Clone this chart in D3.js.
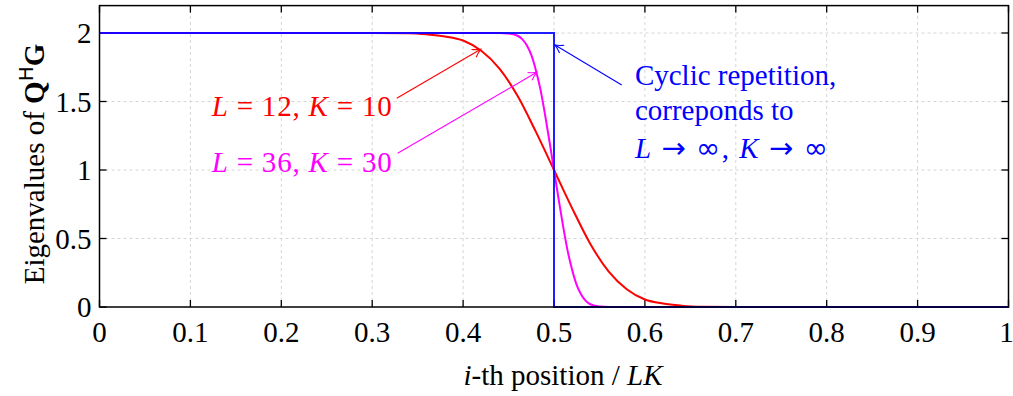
<!DOCTYPE html>
<html><head><meta charset="utf-8">
<script src="https://cdn.jsdelivr.net/npm/d3@7"></script>
<style>
body{margin:0;background:#fff;}
text{font-family:"Liberation Serif","DejaVu Serif",serif;}
</style></head>
<body><svg id="chart" width="1013" height="396"></svg>
<script>
// ---- data ----
const xTicks = [0,0.1,0.2,0.3,0.4,0.5,0.6,0.7,0.8,0.9,1];
const yTicks = [0,0.5,1,1.5,2];
const xTickLabels = ["0","0.1","0.2","0.3","0.4","0.5","0.6","0.7","0.8","0.9","1"];
const yTickLabels = ["0","0.5","1","1.5","2"];

const redX = [0,0.30,0.34,0.36,0.38,0.40,0.42,0.44,0.46,0.48,0.50,0.52,0.54,0.56,0.58,0.60,0.62,0.64,0.66,0.70,1];
const redY = [2,2,1.998,1.99,1.975,1.945,1.87,1.74,1.54,1.28,1.0,0.72,0.46,0.26,0.13,0.055,0.025,0.01,0.002,0,0];

const magX = [0,0.44,0.45,0.46,0.465,0.47,0.475,0.48,0.485,0.49,0.495,0.50,0.505,0.51,0.515,0.52,0.525,0.53,0.535,0.54,0.55,0.56,1];
const magY = [2,2,1.997,1.98,1.955,1.91,1.84,1.73,1.59,1.41,1.21,1.0,0.79,0.59,0.41,0.27,0.16,0.09,0.045,0.02,0.003,0,0];

const blueX = [0,0.5,0.5,1];
const blueY = [2,2,0,0];

// ---- layout ----
const svg = d3.select("#chart");
const x = d3.scaleLinear().domain([0,1]).range([99.5,1008.5]);
const y = d3.scaleLinear().domain([0,2.2]).range([307,5.6]);
const FS = 29;

// grid
const g = svg.append("g");
g.selectAll(".gx").data(xTicks.slice(1,-1)).enter().append("line")
  .attr("x1",d=>x(d)).attr("x2",d=>x(d)).attr("y1",y(0)).attr("y2",y(2.2))
  .attr("stroke","#d6d6d6").attr("stroke-width",1).attr("stroke-dasharray","3,3");
g.selectAll(".gy").data(yTicks.slice(1)).enter().append("line")
  .attr("x1",x(0)).attr("x2",x(1)).attr("y1",d=>y(d)).attr("y2",d=>y(d))
  .attr("stroke","#d6d6d6").attr("stroke-width",1).attr("stroke-dasharray","3,3");

// ticks (inward on all sides)
const TL = 7;
const tk = svg.append("g").attr("stroke","#000").attr("stroke-width",1.3);
xTicks.forEach(d=>{
  tk.append("line").attr("x1",x(d)).attr("x2",x(d)).attr("y1",y(0)).attr("y2",y(0)-TL);
  tk.append("line").attr("x1",x(d)).attr("x2",x(d)).attr("y1",y(2.2)).attr("y2",y(2.2)+TL);
});
yTicks.forEach(d=>{
  tk.append("line").attr("x1",x(0)).attr("x2",x(0)+TL).attr("y1",y(d)).attr("y2",y(d));
  tk.append("line").attr("x1",x(1)).attr("x2",x(1)-TL).attr("y1",y(d)).attr("y2",y(d));
});

// tick labels
svg.selectAll(".xl").data(xTicks).enter().append("text")
  .attr("x",d=>d===1 ? x(d)-2 : x(d)).attr("y",342).attr("text-anchor","middle")
  .attr("font-size",FS).text((d,i)=>xTickLabels[i]);
svg.selectAll(".yl").data(yTicks).enter().append("text")
  .attr("x",x(0)-8).attr("y",d=>y(d)+10).attr("text-anchor","end")
  .attr("font-size",FS).text((d,i)=>yTickLabels[i]);

// curves
const line = d3.line().x(d=>x(d[0])).y(d=>y(d[1])).curve(d3.curveMonotoneX);
const lineL = d3.line().x(d=>x(d[0])).y(d=>y(d[1]));
svg.append("path").datum(redX.map((v,i)=>[v,redY[i]])).attr("d",line)
  .attr("fill","none").attr("stroke","#ff0000").attr("stroke-width",2);
svg.append("path").datum(magX.map((v,i)=>[v,magY[i]])).attr("d",line)
  .attr("fill","none").attr("stroke","#ff00ff").attr("stroke-width",2);
svg.append("path").datum(blueX.map((v,i)=>[v,blueY[i]])).attr("d",lineL)
  .attr("fill","none").attr("stroke","#0000ff").attr("stroke-width",2).attr("stroke-opacity",0.88);

// frame
svg.append("rect").attr("x",x(0)).attr("y",y(2.2)).attr("width",x(1)-x(0)).attr("height",y(0)-y(2.2))
  .attr("fill","none").attr("stroke","#000").attr("stroke-width",1.5);

// arrow markers
const defs = svg.append("defs");
[["r","#ff0000"],["m","#ff00ff"],["b","#0000ff"]].forEach(([id,c])=>{
  defs.append("marker").attr("id","ah"+id).attr("viewBox","-10 -6 12 12")
    .attr("refX",0).attr("refY",0).attr("markerWidth",12).attr("markerHeight",12)
    .attr("markerUnits","userSpaceOnUse").attr("orient","auto")
    .append("path").attr("d","M-8,-4.5 Q-3,-1 0,0 Q-3,1 -8,4.5").attr("fill","none").attr("stroke",c).attr("stroke-width",1.1);
});

// annotations
const arrows = [
  {from:[0.327,1.523], to:[0.4194,1.881], c:"#ff0000", id:"r"},
  {from:[0.328,1.122], to:[0.481,1.713], c:"#ff00ff", id:"m"},
  {from:[0.5745,1.620], to:[0.5011,1.912], c:"#0000ff", id:"b"}
];
arrows.forEach(a=>{
  svg.append("line").attr("x1",x(a.from[0])).attr("y1",y(a.from[1]))
    .attr("x2",x(a.to[0])).attr("y2",y(a.to[1]))
    .attr("stroke",a.c).attr("stroke-width",1.1).attr("marker-end",`url(#ah${a.id})`);
});

function mathLabel(px,py,color,parts,len){
  const t = svg.append("text").attr("x",px).attr("y",py).attr("font-size",FS).attr("fill",color)
    .attr("xml:space","preserve");
  parts.forEach(p=>{
    const s = t.append("tspan").text(p[0]);
    if(p[1]===1) s.attr("font-style","italic");
    if(p[1]===2) s.attr("font-family","'DejaVu Sans',sans-serif").attr("font-size",FS);
  });
  if(len) t.attr("textLength",len).attr("lengthAdjust","spacing");
  return t;
}
mathLabel(x(0.1234),y(1.394),"#ff0000",[["L",1],[" = 12, "],["K",1],[" = 10"]],180);
mathLabel(x(0.1234),y(0.988),"#ff00ff",[["L",1],[" = 36, "],["K",1],[" = 30"]],180);

svg.append("text").attr("x",x(0.589)).attr("y",y(1.620)).attr("font-size",FS).attr("fill","#0000ff").text("Cyclic repetition,");
svg.append("text").attr("x",x(0.589)).attr("y",y(1.365)).attr("font-size",FS).attr("fill","#0000ff").text("correponds to");
mathLabel(x(0.589),y(1.088),"#0000ff",[["L",1],[" "],["\u2192",2],[" "],["\u221E",2],[", "],["K",1],[" "],["\u2192",2],[" "],["\u221E",2]],193);

// axis titles
const xt = svg.append("text").attr("x",x(0.5)+9).attr("y",385).attr("text-anchor","middle").attr("font-size",FS);
xt.append("tspan").attr("font-style","italic").text("i");
xt.append("tspan").text("-th position / ");
xt.append("tspan").attr("font-style","italic").text("LK");

const yt = svg.append("text").attr("transform",`translate(44,${164}) rotate(-90)`)
  .attr("text-anchor","middle").attr("font-size",FS);
yt.append("tspan").text("Eigenvalues of ");
yt.append("tspan").attr("font-weight","bold").text("Q");
yt.append("tspan").attr("font-family","'DejaVu Sans',sans-serif").attr("font-size",20).attr("dy",-11).text("H");
yt.append("tspan").attr("font-weight","bold").attr("dy",11).text("G");
</script></body></html>
